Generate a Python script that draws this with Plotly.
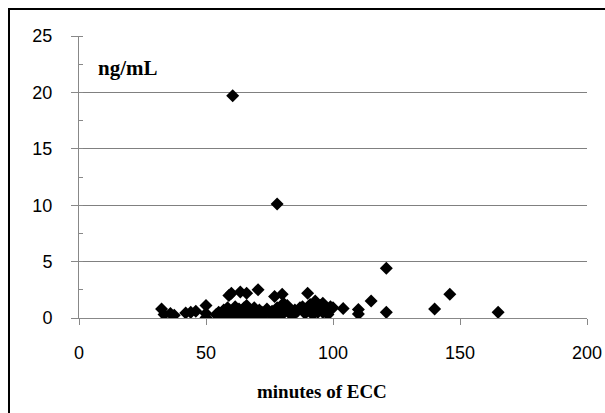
import plotly.graph_objects as go

# minutes of ECC vs concentration (ng/mL)
minutes = [60.5, 78, 121, 146, 140, 165, 115, 121, 110, 110, 104, 100, 96, 96, 97,
           32.5, 33.5, 36, 37.5, 42, 44, 46, 50, 50, 50,
           59, 60, 63.5, 66, 70.5, 77, 80, 90, 91, 80.5, 93, 95, 88, 85,
           54, 55, 56, 57, 58, 58.5, 59, 60, 61, 61.5, 62, 63, 63.5, 64, 65, 65.5,
           66, 67, 67.5, 68, 69, 70, 70.5, 71, 72, 73, 74, 75, 76, 77, 78, 79,
           80, 81, 82, 83, 84, 86, 87, 89, 90, 92, 93, 94, 98, 99]
conc = [19.7, 10.1, 4.4, 2.1, 0.8, 0.5, 1.5, 0.5, 0.75, 0.35, 0.85, 0.9, 1.3, 0.5, 0.9,
        0.8, 0.3, 0.4, 0.25, 0.45, 0.5, 0.6, 1.1, 0.4, 0.05,
        2.0, 2.2, 2.3, 2.2, 2.5, 1.9, 2.1, 2.2, 1.2, 1.3, 1.5, 1.1, 1.0, 0.7,
        0.3, 0.5, 0.2, 0.7, 0.4, 0.9, 0.1, 0.6, 0.3, 1.0, 0.5, 0.8, 0.2, 0.6, 0.9, 0.4,
        1.1, 0.7, 0.2, 0.5, 0.9, 0.4, 0.1, 0.7, 0.5, 0.3, 0.8, 0.4, 0.6, 0.2, 0.9, 0.5,
        0.3, 0.7, 1.1, 0.4, 0.2, 0.6, 0.9, 0.4, 0.7, 0.3, 0.9, 0.5, 0.3, 1.0]

x_ticks = [0, 50, 100, 150, 200]
y_ticks = [0, 5, 10, 15, 20, 25]

fig = go.Figure()
fig.add_trace(go.Scatter(x=minutes, y=conc, mode="markers",
                         marker=dict(symbol="diamond", size=10, color="black",
                                     line=dict(width=0))))

axis_font = dict(family="Liberation Sans, Arial", size=18, color="black")

fig.update_layout(
    width=605, height=413,
    margin=dict(l=79, r=18, t=36, b=95),
    paper_bgcolor="white", plot_bgcolor="white",
    showlegend=False,
    xaxis=dict(range=[0, 200], tickvals=x_ticks, showgrid=False, zeroline=False,
               showline=True, linecolor="#888888", linewidth=1,
               ticks="outside", ticklen=6, tickcolor="#888888",
               tickfont=axis_font, ticklabelstandoff=12, automargin=False),
    yaxis=dict(range=[0, 25], tickvals=y_ticks, showgrid=True, gridcolor="#808080",
               gridwidth=1, zeroline=False, showline=True, linecolor="#888888",
               linewidth=1, ticks="outside", ticklen=7, tickcolor="#888888",
               tickfont=axis_font, ticklabelstandoff=15, automargin=False,
               minor=dict(dtick=2.5, ticks="inside", ticklen=4, tickcolor="#888888",
                          showgrid=False)),
    annotations=[
        dict(text="<b>ng/mL</b>", xref="paper", yref="paper", x=0.033, y=0.885,
             xanchor="left", yanchor="middle", showarrow=False,
             font=dict(family="Liberation Serif, Times New Roman", size=21, color="black")),
        dict(text="<b>minutes of ECC</b>", xref="paper", yref="paper", x=0.478, y=-0.262,
             xanchor="center", yanchor="middle", showarrow=False,
             font=dict(family="Liberation Serif, Times New Roman", size=19, color="black")),
    ],
    shapes=[
        dict(type="rect", xref="paper", yref="paper", x0=-0.1378, x1=1.1, y0=-0.5, y1=1.0957,
             line=dict(color="black", width=2), layer="below"),
    ],
)

# drop the default body margin so the 605x413 figure fills the window exactly
fig.write_html("out.html", config={"displayModeBar": False},
               post_script="document.body.style.margin = '0';")
